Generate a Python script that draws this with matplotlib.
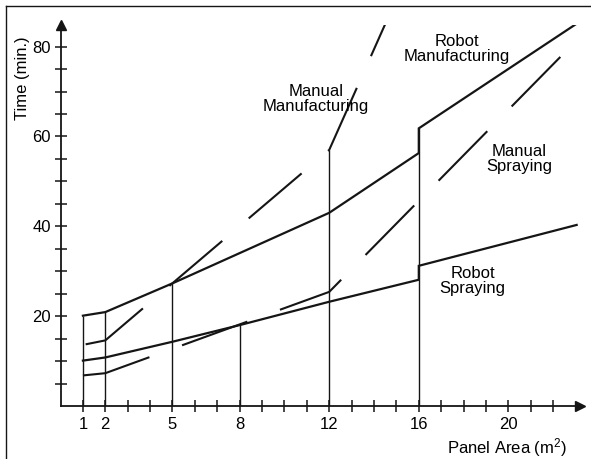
import numpy as np
import matplotlib
matplotlib.use('Agg')
import matplotlib.pyplot as plt
from matplotlib.lines import Line2D

# data
robot_spray_x = [1, 2, 5, 8, 12, 16, 16, 23.05]
robot_spray_y = [10.1, 10.8, 14.3, 18.0, 23.2, 28.1, 31.2, 40.3]

robot_mfg_x = [1, 2, 5, 12, 16, 16, 23.05]
robot_mfg_y = [20.1, 20.9, 27.3, 43.0, 56.3, 61.8, 85.1]

manual_mfg_x = [1, 2, 12, 14.5]
manual_mfg_y = [13.6, 14.6, 57.0, 85.0]

manual_spray_x = [1, 2, 12, 22.5]
manual_spray_y = [6.8, 7.3, 25.4, 78.6]

drop_x = [1, 2, 5, 8, 12, 16]
drop_top = [20.1, 20.9, 27.3, 18.0, 57.0, 61.8]

xtick_major = [1, 2, 5, 8, 12, 16, 20]
xtick_minor = list(range(1, 23))
ytick_major = [20, 40, 60, 80]
ytick_minor = list(range(5, 80, 5))

plt.rcParams['font.family'] = ['Liberation Sans', 'DejaVu Sans']
plt.rcParams['mathtext.fontset'] = 'custom'
plt.rcParams['mathtext.rm'] = 'Liberation Sans'
plt.rcParams['mathtext.it'] = 'Liberation Sans'
plt.rcParams['lines.scale_dashes'] = False

fig = plt.figure(figsize=(5.91, 4.59), dpi=100)
ax = fig.add_axes([0.1024, 0.1155, 0.879, 0.830])
ax.set_xlim(0, 23.2)
ax.set_ylim(0, 84.8)

ink = '#151515'
# drop lines to the axis
ax.vlines(drop_x, 0, drop_top, color=ink, lw=1.0)

ax.plot(robot_spray_x, robot_spray_y, color=ink, lw=1.6, solid_joinstyle='miter')
ax.plot(robot_mfg_x, robot_mfg_y, color=ink, lw=1.6, solid_joinstyle='miter')
ax.plot(manual_mfg_x, manual_mfg_y, color=ink, lw=1.5, linestyle=(73, (50, 25)))
ax.plot(manual_spray_x, manual_spray_y, color=ink, lw=1.5, linestyle=(0, (50, 25)))

# axes with arrows
for s in ['top', 'right']:
    ax.spines[s].set_visible(False)
for s in ['left', 'bottom']:
    ax.spines[s].set_linewidth(1.3)
    ax.spines[s].set_color(ink)
ax.plot(1, 0, '>', color=ink, ms=7, transform=ax.get_yaxis_transform(), clip_on=False)
ax.plot(0, 1, '^', color=ink, ms=7, transform=ax.get_xaxis_transform(), clip_on=False)

ax.set_xticks(xtick_major)
ax.set_xticks(xtick_minor, minor=True)
ax.set_yticks(ytick_major)
ax.set_yticks(ytick_minor, minor=True)
ax.tick_params(which='both', direction='inout', color=ink, width=1.1, labelsize=12)
ax.tick_params(axis='x', which='both', length=8, pad=4)
ax.tick_params(axis='y', which='both', length=8, pad=3)

ax.text(-1.72, 72.9, 'Time (min.)', rotation=90, ha='center', va='center',
        fontsize=12, clip_on=False)
ax.text(22.6, -9.2, 'Panel Area (m$^2$)', ha='right', va='center',
        fontsize=12, clip_on=False)

ax.text(11.4, 68.3, 'Manual\nManufacturing', ha='center', va='center',
        multialignment='center', fontsize=12, linespacing=0.95)
ax.text(17.7, 79.5, 'Robot\nManufacturing', ha='center', va='center',
        multialignment='center', fontsize=12, linespacing=0.95)
ax.text(20.5, 55.0, 'Manual\nSpraying', ha='center', va='center',
        multialignment='center', fontsize=12, linespacing=0.95)
ax.text(18.4, 27.8, 'Robot\nSpraying', ha='center', va='center',
        multialignment='center', fontsize=12, linespacing=0.95)

# page frame (top and left edges of the scan)
fig.add_artist(Line2D([6 / 591, 1], [1 - 6 / 459, 1 - 6 / 459], color=ink, lw=1.0,
                      transform=fig.transFigure))
fig.add_artist(Line2D([6 / 591, 6 / 591], [0, 1 - 6 / 459], color=ink, lw=1.0,
                      transform=fig.transFigure))

fig.savefig('out.png', dpi=100)
